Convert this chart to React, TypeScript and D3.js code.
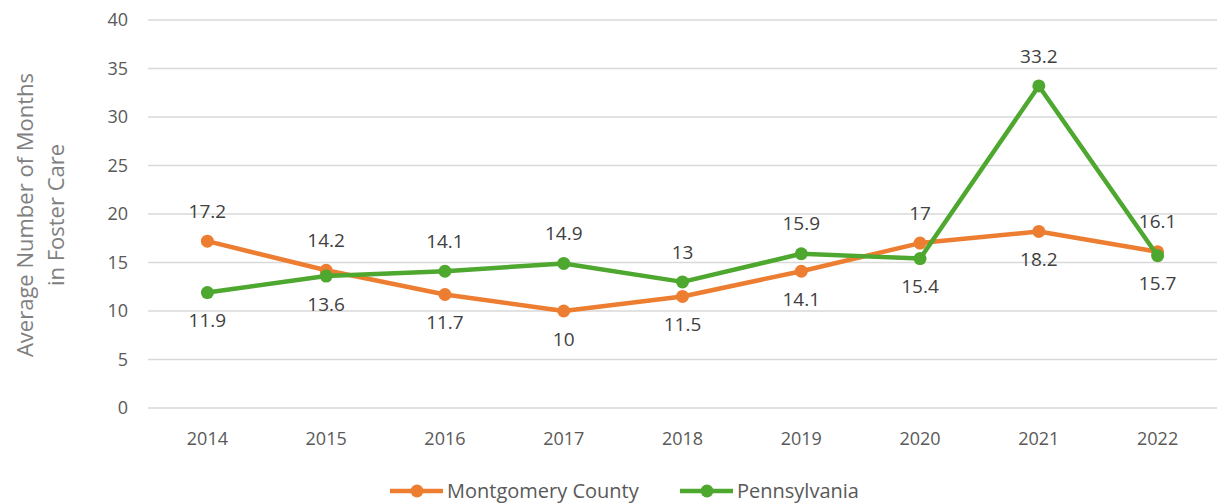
import { useEffect, useRef } from 'react';
import * as d3 from 'd3';

const years = ['2014', '2015', '2016', '2017', '2018', '2019', '2020', '2021', '2022'];
const montgomery = [17.2, 14.2, 11.7, 10, 11.5, 14.1, 17, 18.2, 16.1];
const pennsylvania = [11.9, 13.6, 14.1, 14.9, 13, 15.9, 15.4, 33.2, 15.7];
const yTicks = [0, 5, 10, 15, 20, 25, 30, 35, 40];

const seriesNames = ['Montgomery County', 'Pennsylvania'];
const colors = ['#ED7D31', '#4EA72E'];

export default function App() {
  const svgRef = useRef<SVGSVGElement>(null);

  useEffect(() => {
    if (!svgRef.current) return;
    const svg = d3.select(svgRef.current);
    svg.selectAll('*').remove();

    const font = 'Open Sans, sans-serif';
    const textColor = '#595959';

    const x = d3.scalePoint<string>().domain(years).range([148, 1217]).padding(0.5);
    const y = d3.scaleLinear().domain([0, 40]).range([408, 20]);

    // gridlines
    svg.append('g')
      .selectAll('line')
      .data(yTicks)
      .enter()
      .append('line')
      .attr('x1', 148)
      .attr('x2', 1217)
      .attr('y1', d => y(d))
      .attr('y2', d => y(d))
      .attr('stroke', '#d9d9d9')
      .attr('stroke-width', 1.3);

    // y tick labels
    svg.append('g')
      .selectAll('text')
      .data(yTicks)
      .enter()
      .append('text')
      .attr('x', 128)
      .attr('y', d => y(d))
      .attr('dy', '0.35em')
      .attr('text-anchor', 'end')
      .attr('font-family', font)
      .attr('font-size', 18)
      .attr('fill', textColor)
      .text(d => d);

    // x tick labels
    svg.append('g')
      .selectAll('text')
      .data(years)
      .enter()
      .append('text')
      .attr('x', d => x(d)!)
      .attr('y', 439)
      .attr('dy', '0.35em')
      .attr('text-anchor', 'middle')
      .attr('font-family', font)
      .attr('font-size', 18)
      .attr('fill', textColor)
      .text(d => d);

    // y axis title
    const title = svg.append('text')
      .attr('transform', 'translate(40,215) rotate(-90)')
      .attr('text-anchor', 'middle')
      .attr('font-family', font)
      .attr('font-size', 22)
      .attr('fill', '#808080');
    title.append('tspan').attr('x', 0).attr('dy', '-0.3em').text('Average Number of Months');
    title.append('tspan').attr('x', 0).attr('dy', '1.4em').text('in Foster Care');

    const allSeries = [montgomery, pennsylvania];
    const line = d3.line<number>()
      .x((_, i) => x(years[i])!)
      .y(d => y(d));

    allSeries.forEach((vals, s) => {
      svg.append('path')
        .datum(vals)
        .attr('fill', 'none')
        .attr('stroke', colors[s])
        .attr('stroke-width', 4.5)
        .attr('stroke-linejoin', 'round')
        .attr('d', line);
      svg.append('g')
        .selectAll('circle')
        .data(vals)
        .enter()
        .append('circle')
        .attr('cx', (_, i) => x(years[i])!)
        .attr('cy', d => y(d))
        .attr('r', 6.5)
        .attr('fill', colors[s]);
    });

    // data labels: higher value above, lower below
    allSeries.forEach((vals, s) => {
      const other = allSeries[1 - s];
      svg.append('g')
        .selectAll('text')
        .data(vals)
        .enter()
        .append('text')
        .attr('x', (_, i) => x(years[i])!)
        .attr('y', (d, i) => {
          const above = s === 0 ? d >= other[i] : d > other[i];
          return y(d) + (above ? -30 : 28);
        })
        .attr('dy', '0.35em')
        .attr('text-anchor', 'middle')
        .attr('font-family', font)
        .attr('font-size', 19)
        .attr('fill', '#404040')
        .text(d => d);
    });

    // legend
    const legendX = [390, 680];
    seriesNames.forEach((name, s) => {
      const g = svg.append('g').attr('transform', `translate(${legendX[s]},491)`);
      g.append('line')
        .attr('x1', 0).attr('x2', 53)
        .attr('y1', 0).attr('y2', 0)
        .attr('stroke', colors[s])
        .attr('stroke-width', 4.5);
      g.append('circle').attr('cx', 27).attr('cy', 0).attr('r', 6.5).attr('fill', colors[s]);
      g.append('text')
        .attr('x', 57)
        .attr('y', 0)
        .attr('dy', '0.35em')
        .attr('font-family', font)
        .attr('font-size', 20)
        .attr('fill', textColor)
        .text(name);
    });
  }, []);

  return (
    <svg ref={svgRef} width={1220} height={504} style={{ position: 'absolute', left: 0, top: 0, background: '#fff' }} />
  );
}
